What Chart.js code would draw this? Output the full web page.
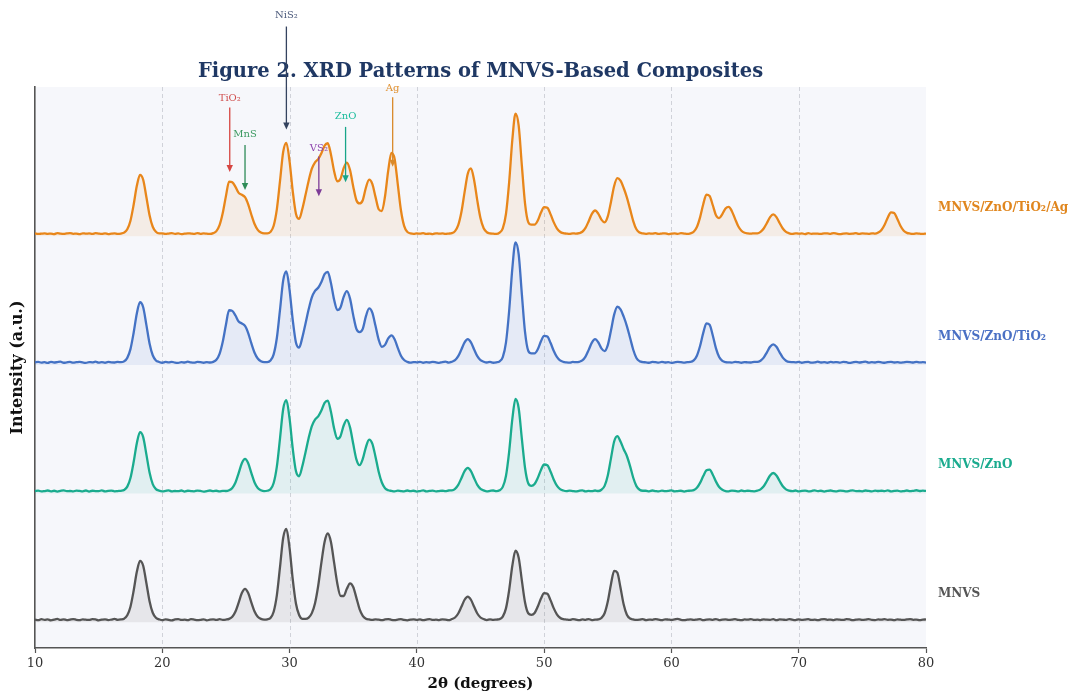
<!DOCTYPE html>
<html>
<head>
<meta charset="utf-8">
<script src="https://cdn.jsdelivr.net/npm/chart.js@4.4.1/dist/chart.umd.min.js"></script>
<style>
html,body{margin:0;padding:0;background:#ffffff;}
#wrap{width:1075px;height:696px;position:relative;}
canvas{display:block;}
</style>
</head>
<body>
<div id="wrap"><canvas id="c" width="1075" height="696"></canvas></div>
<script>
// 2θ sampling (degrees)
const twoTheta = [
10,10.25,10.5,10.75,11,11.25,11.5,11.75,12,12.25,12.5,12.75,13,13.25,13.5,13.75,14,14.25,14.5,14.75,
15,15.25,15.5,15.75,16,16.25,16.5,16.75,17,17.25,17.5,17.75,18,18.25,18.5,18.75,19,19.25,19.5,19.75,
20,20.25,20.5,20.75,21,21.25,21.5,21.75,22,22.25,22.5,22.75,23,23.25,23.5,23.75,24,24.25,24.5,24.75,
25,25.25,25.5,25.75,26,26.25,26.5,26.75,27,27.25,27.5,27.75,28,28.25,28.5,28.75,29,29.25,29.5,29.75,
30,30.25,30.5,30.75,31,31.25,31.5,31.75,32,32.25,32.5,32.75,33,33.25,33.5,33.75,34,34.25,34.5,34.75,
35,35.25,35.5,35.75,36,36.25,36.5,36.75,37,37.25,37.5,37.75,38,38.25,38.5,38.75,39,39.25,39.5,39.75,
40,40.25,40.5,40.75,41,41.25,41.5,41.75,42,42.25,42.5,42.75,43,43.25,43.5,43.75,44,44.25,44.5,44.75,
45,45.25,45.5,45.75,46,46.25,46.5,46.75,47,47.25,47.5,47.75,48,48.25,48.5,48.75,49,49.25,49.5,49.75,
50,50.25,50.5,50.75,51,51.25,51.5,51.75,52,52.25,52.5,52.75,53,53.25,53.5,53.75,54,54.25,54.5,54.75,
55,55.25,55.5,55.75,56,56.25,56.5,56.75,57,57.25,57.5,57.75,58,58.25,58.5,58.75,59,59.25,59.5,59.75,
60,60.25,60.5,60.75,61,61.25,61.5,61.75,62,62.25,62.5,62.75,63,63.25,63.5,63.75,64,64.25,64.5,64.75,
65,65.25,65.5,65.75,66,66.25,66.5,66.75,67,67.25,67.5,67.75,68,68.25,68.5,68.75,69,69.25,69.5,69.75,
70,70.25,70.5,70.75,71,71.25,71.5,71.75,72,72.25,72.5,72.75,73,73.25,73.5,73.75,74,74.25,74.5,74.75,
75,75.25,75.5,75.75,76,76.25,76.5,76.75,77,77.25,77.5,77.75,78,78.25,78.5,78.75,79,79.25,79.5,79.75,
80];

const seriesNames = ['MNVS', 'MNVS/ZnO', 'MNVS/ZnO/TiO₂', 'MNVS/ZnO/TiO₂/Ag'];
const stackOffsets = [0, 100, 200, 300];
const xTickValues = [10, 20, 30, 40, 50, 60, 70, 80];

// Intensity (a.u.) above each pattern's own baseline
const mnvs = [
2.1,1.6,2.4,1.9,2.2,1.5,2.0,2.6,1.8,2.3,1.7,2.1,2.5,1.9,1.6,2.3,2.0,1.8,2.4,2.2,1.5,2.0,2.3,1.7,2.1,2.6,1.9,2.2,
2.8,5.4,12.1,24.5,39.2,47.7,43.9,30.5,16.4,7.4,3.5,
2.3,1.6,2.3,1.9,1.5,2.2,2.5,1.8,2.0,1.6,2.4,2.1,1.7,1.9,2.3,1.5,2.0,2.2,1.8,2.4,1.9,2.1,
2.6,4.3,8.4,15.3,22.7,26.0,22.7,15.3,8.4,4.3,2.6,
2.1,2.3,
3.4,8.2,20.9,43.0,65.7,72.5,57.7,33.3,14.6,5.6,2.7,2.6,3.6,7.1,14.8,28.4,46.3,62.4,69.0,62.4,46.3,30.2,20.6,20.4,26.0,30.2,27.4,19.0,10.3,5.0,2.8,2.2,
1.8,2.3,2.0,1.6,2.2,2.5,1.9,1.7,2.1,2.4,1.8,1.5,2.0,2.3,1.9,2.2,1.6,2.1,2.5,1.8,2.0,1.7,2.3,2.1,1.6,2.5,
3.7,6.8,12.0,17.5,20.0,17.5,12.0,6.8,3.7,
2.5,1.7,2.3,1.9,2.1,2.4,
4.4,10.8,24.9,43.9,55.6,50.2,32.4,15.4,7.0,5.8,7.2,12.2,18.4,22.6,22.1,17.2,11.0,6.2,3.5,2.4,
2.1,1.8,2.4,2.0,1.6,2.2,1.9,2.5,1.7,2.0,2.2,
3.3,7.0,16.1,29.6,39.9,38.6,26.8,13.8,5.9,2.9,
2.2,1.8,2.0,2.4,1.7,2.1,1.9,2.5,2.0,1.6,
2.3,2.1,1.8,2.2,2.6,1.9,1.7,2.0,2.3,1.8,
2.1,2.4,1.6,2.0,2.2,1.9,2.5,1.7,2.1,2.3,
1.8,2.0,2.4,1.9,1.6,2.2,2.0,2.5,1.8,2.1,
1.7,2.3,2.0,1.9,2.4,1.6,2.2,2.1,1.8,2.5,
2.0,1.7,2.3,1.9,2.1,2.4,1.8,2.0,1.6,2.2,
2.5,1.9,2.1,1.7,2.3,2.0,1.8,2.4,2.2,1.6,
2.0,2.3,1.9,2.1,2.5,1.8,1.7,2.2,2.0,2.4,
1.9,2.1,1.6,2.3,2.0,1.8,2.2,2.5,1.9,2.1,
1.7,2.0,2.2];

const mnvsZnO = [
1.9,2.3,1.7,2.0,2.4,1.8,2.2,1.6,2.1,2.5,1.9,2.0,1.7,2.3,2.1,1.8,2.4,1.6,2.2,2.0,1.9,2.5,1.7,2.1,2.3,1.8,2.0,2.2,
2.8,5.4,12.1,24.5,39.2,47.7,43.9,30.5,16.4,7.4,3.5,
2.3,1.8,2.1,2.5,1.7,2.0,1.9,2.4,1.6,2.2,2.0,1.8,2.3,2.1,1.5,2.0,2.4,1.9,2.2,1.7,2.1,2.0,
2.6,4.4,8.6,15.9,23.6,27.0,23.6,15.9,8.6,4.4,2.6,
1.9,2.2,
3.4,8.2,20.9,43.0,65.7,72.6,58.2,34.9,17.5,13.5,21.2,32.0,43.2,52.5,57.5,60.0,64.5,70.5,72.3,
63.6,50.6,42.6,44.6,52.9,57.3,51.5,38.7,26.6,22.1,26.9,36.2,42.0,38.9,28.7,17.0,8.6,4.2,2.6,
2.1,1.7,2.3,2.0,1.8,2.4,1.9,2.2,1.6,2.0,2.5,1.8,2.1,2.3,1.7,2.0,2.2,1.9,2.4,2.5,
3.7,6.8,12.0,17.5,20.0,17.5,12.0,6.8,3.7,
2.5,1.8,2.1,2.4,1.9,
2.6,5.2,13.7,32.5,57.8,73.5,66.3,42.5,19.9,8.0,6.0,7.5,12.2,18.4,22.6,22.1,17.2,11.0,6.2,3.5,2.4,
1.9,2.3,2.0,1.7,2.2,2.5,1.8,2.1,1.9,2.4,2.0,
3.0,6.0,14.1,27.4,40.5,44.7,40.4,34.5,29.2,21.4,12.3,5.8,3.0,2.2,
2.2,1.8,2.4,2.0,1.7,2.3,1.9,2.1,2.5,1.8,2.0,2.2,1.6,2.1,2.3,
2.7,4.5,8.3,13.6,18.1,18.6,14.7,9.3,5.1,3.0,
2.0,1.8,2.3,2.1,1.7,2.4,1.9,2.2,2.0,1.8,2.3,
3.3,5.7,9.8,14.1,16.0,14.1,9.8,5.7,3.3,
2.3,1.9,2.4,1.7,2.1,2.3,1.8,2.0,2.5,1.9,
2.2,1.6,2.1,2.4,2.0,1.8,2.3,2.1,1.7,2.2,
2.5,1.9,2.0,1.8,2.4,2.1,1.7,2.3,2.0,2.2,
1.9,2.5,1.8,2.1,2.3,1.7,2.0,2.4,1.9,2.2,
2.6,2.0,2.3,2.1];

const mnvsZnOTiO2 = [
2.0,2.4,1.8,2.1,1.6,2.3,1.9,2.2,2.5,1.7,2.0,2.3,1.8,2.1,2.4,1.9,1.6,2.2,2.0,2.5,1.8,2.1,1.7,2.3,2.0,1.9,2.4,2.1,
2.8,5.5,12.3,25.0,40.0,48.7,44.8,31.1,16.7,7.5,3.5,
2.3,1.7,2.3,2.0,2.4,1.8,1.6,2.2,1.9,2.5,2.0,1.8,2.3,2.1,1.7,2.2,1.9,
2.4,4.0,8.6,18.0,31.2,42.5,42.0,38.4,33.7,32.2,30.4,24.8,16.7,9.5,5.0,2.9,2.2,
2.2,
3.4,8.2,20.9,43.0,65.7,72.6,58.2,34.9,17.5,13.5,21.2,32.0,43.2,52.5,57.5,60.0,64.5,70.5,72.3,
63.6,50.6,42.6,44.6,52.9,57.3,51.5,38.7,28.0,25.5,
28.0,37.9,44.0,40.7,30.4,19.6,14.1,15.6,20.6,23.0,20.0,13.3,7.2,3.8,2.4,
1.8,2.2,2.0,2.4,1.7,2.1,1.9,2.3,2.0,1.6,2.2,2.5,1.8,2.5,
3.7,6.8,12.0,17.5,20.0,17.5,12.0,6.8,3.7,
2.5,1.9,2.3,1.7,2.0,
2.8,6.1,17.3,41.9,74.9,95.3,85.9,54.9,25.4,11.0,9.0,9.0,12.2,18.4,22.6,22.1,17.2,11.0,6.2,3.5,2.4,
2.0,1.8,2.3,2.1,
2.4,3.5,6.5,11.7,17.4,20.0,17.6,12.9,10.8,15.4,26.7,39.1,45.2,43.2,37.5,30.2,21.1,11.8,5.4,2.9,2.2,
2.0,1.7,2.3,2.1,1.8,2.4,1.9,2.2,1.6,2.0,2.3,2.1,1.8,2.2,
2.3,3.5,7.2,14.7,24.9,32.3,31.3,22.9,12.9,6.2,3.2,2.2,
2.0,1.8,2.4,2.1,1.7,2.2,2.0,1.9,2.3,2.3,
3.3,5.7,9.8,14.1,16.0,14.1,9.8,5.7,3.3,
2.3,2.2,2.0,2.4,1.7,2.1,2.3,1.8,2.0,2.5,
1.9,2.1,1.7,2.3,2.0,2.2,1.8,2.4,2.1,1.6,
2.0,2.3,1.9,2.2,2.5,1.8,2.1,1.9,2.3,2.0,
1.7,2.2,2.4,1.9,2.1,1.8,2.0,2.3,2.2,1.9,
2.4,2.0,2.1,1.8];

const mnvsZnOTiO2Ag = [
2.2,1.8,2.0,2.3,1.9,2.1,1.7,2.4,2.0,1.8,2.2,2.5,1.9,2.1,1.6,2.3,2.0,2.2,1.8,2.4,2.1,1.9,2.3,1.7,2.0,2.2,1.8,2.1,
2.8,5.4,12.1,24.5,39.2,47.7,43.9,30.5,16.4,7.4,3.5,
2.3,2.3,1.8,2.1,2.4,1.9,2.2,1.7,2.0,2.3,2.1,1.8,2.5,1.9,2.2,2.0,1.8,
2.4,4.0,8.6,18.0,31.2,42.5,42.0,38.4,33.7,32.2,30.4,24.8,16.7,9.5,5.0,2.9,2.2,
2.2,
3.4,8.2,20.9,43.0,65.7,72.6,58.2,34.9,17.5,13.5,21.2,32.0,43.2,52.5,57.5,60.0,64.5,70.5,72.3,
63.6,50.6,42.6,44.6,52.9,57.3,51.5,38.7,28.0,25.5,
28.0,37.9,44.0,40.7,
30.6,21.0,19.6,31.1,51.0,64.8,60.3,40.6,20.2,8.1,3.4,2.2,
1.9,2.2,2.0,2.4,1.8,2.1,1.7,2.3,2.0,2.2,1.9,2.1,
2.4,4.0,8.6,18.8,34.3,48.6,52.7,43.6,27.7,14.0,6.2,3.1,2.2,
2.0,1.8,
2.8,6.1,17.3,41.9,74.9,95.3,85.9,54.9,25.4,11.0,9.0,9.0,12.2,18.4,22.6,22.1,17.2,11.0,6.2,3.5,2.4,
2.1,1.9,2.3,2.0,
2.4,3.5,6.5,11.7,17.4,20.0,17.6,12.9,10.8,15.4,26.7,39.1,45.2,43.2,37.5,30.2,21.1,11.8,5.4,2.9,2.2,
1.9,2.2,2.0,2.4,1.8,2.1,2.3,1.7,2.0,2.2,1.9,2.4,2.1,1.8,
2.3,3.5,7.2,14.7,24.9,32.3,31.3,24.1,16.3,14.1,17.2,21.6,22.9,19.5,13.5,7.8,4.3,2.7,2.2,
2.0,2.3,2.3,
3.4,6.0,10.3,14.9,17.0,14.9,10.3,6.0,3.4,
2.3,1.8,2.3,2.0,2.2,1.7,2.4,1.9,2.1,2.0,1.8,2.3,2.2,1.9,2.5,2.0,1.7,2.1,2.3,1.9,2.0,2.4,1.8,2.2,2.1,1.9,2.3,2.0,
2.9,4.9,9.0,14.6,18.6,18.1,13.5,8.0,4.3,2.6,
2.1,1.9,2.2,2.0,1.8,2.1];

// Phase markers: label, 2θ position, label height, arrow start, arrow tip (a.u. on the stacked scale)
const phaseLabels = ['NiS₂', 'TiO₂', 'MnS', 'VS₂', 'ZnO', 'Ag'];
const phaseTheta  = [29.75, 25.3, 26.5, 32.3, 34.4, 38.1];
const phaseLabelY = [472, 407, 379, 368, 393, 415];
const phaseStartY = [463, 400, 371, 362, 385, 408];
const phaseTipY   = [383, 350, 336, 331, 342, 354];

// ---------- styles ----------
const lineColors = ['#555555', '#1aab8e', '#4472c4', '#e8861a'];
const fillColors = ['rgba(85,85,85,0.10)', 'rgba(26,171,142,0.09)', 'rgba(68,114,196,0.09)', 'rgba(232,134,26,0.09)'];
const labelColors = ['#555555', '#1aab8e', '#4a70c4', '#e0861e'];
const phaseTextColors = ['#4d5b7c', '#d0504f', '#3c9a62', '#8e44ad', '#1abc9c', '#e0902e'];
const phaseArrowColors = ['#34435f', '#d64541', '#2e8b57', '#7d3c98', '#17a589', '#d98a2b'];
const SERIF = '"DejaVu Serif", "Liberation Serif", serif';

const allSeries = [mnvs, mnvsZnO, mnvsZnOTiO2, mnvsZnOTiO2Ag];

const datasets = allSeries.map((vals, i) => ({
  label: seriesNames[i],
  data: twoTheta.slice(0, vals.length).map((x, j) => ({ x: x, y: vals[j] + stackOffsets[i] })),
  borderColor: lineColors[i],
  backgroundColor: fillColors[i],
  fill: { value: stackOffsets[i] },
  borderWidth: 2.3,
  pointRadius: 0,
  cubicInterpolationMode: 'monotone',
  borderJoinStyle: 'round'
}));

const decorPlugin = {
  id: 'decor',
  beforeDraw(chart) {
    const { ctx, chartArea: a } = chart;
    ctx.save();
    ctx.fillStyle = '#ffffff';
    ctx.fillRect(0, 0, chart.width, chart.height);
    ctx.fillStyle = '#f6f7fb';
    ctx.fillRect(a.left, a.top, a.right - a.left, a.bottom - a.top);
    ctx.restore();
  },
  beforeDatasetsDraw(chart) {
    const { ctx, chartArea: a, scales: { x } } = chart;
    ctx.save();
    ctx.strokeStyle = 'rgba(150,155,165,0.45)';
    ctx.lineWidth = 0.9;
    ctx.setLineDash([4, 3]);
    xTickValues.forEach(v => {
      if (v <= x.min || v >= x.max) return;
      const px = Math.round(x.getPixelForValue(v)) + 0.5;
      ctx.beginPath();
      ctx.moveTo(px, a.top);
      ctx.lineTo(px, a.bottom);
      ctx.stroke();
    });
    ctx.restore();
  },
  afterDraw(chart) {
    const { ctx, chartArea: a, scales: { x, y } } = chart;
    ctx.save();
    // Title
    ctx.fillStyle = '#1f3864';
    ctx.font = 'bold 19.5px ' + SERIF;
    ctx.textAlign = 'center';
    ctx.textBaseline = 'middle';
    ctx.fillText('Figure 2. XRD Patterns of MNVS-Based Composites', (a.left + a.right) / 2, 72);
    // Axis titles
    ctx.fillStyle = '#111111';
    ctx.font = 'bold 15px ' + SERIF;
    ctx.fillText('2θ (degrees)', (a.left + a.right) / 2, 684);
    ctx.save();
    ctx.translate(18, (a.top + a.bottom) / 2);
    ctx.rotate(-Math.PI / 2);
    ctx.font = 'bold 16px ' + SERIF;
    ctx.fillText('Intensity (a.u.)', 0, 0);
    ctx.restore();
    // Series labels at right
    ctx.textAlign = 'left';
    ctx.font = 'bold 12px ' + SERIF;
    seriesNames.forEach((name, i) => {
      ctx.fillStyle = labelColors[i];
      ctx.fillText(name, a.right + 12, y.getPixelForValue(stackOffsets[i] + 22));
    });
    // Phase markers
    ctx.textAlign = 'center';
    ctx.font = '10px ' + SERIF;
    phaseLabels.forEach((lab, i) => {
      const px = x.getPixelForValue(phaseTheta[i]);
      const ty = y.getPixelForValue(phaseLabelY[i]);
      const sy = y.getPixelForValue(phaseStartY[i]);
      const ey = y.getPixelForValue(phaseTipY[i]);
      ctx.fillStyle = phaseTextColors[i];
      ctx.fillText(lab, px, ty);
      ctx.strokeStyle = phaseArrowColors[i];
      ctx.fillStyle = phaseArrowColors[i];
      ctx.lineWidth = 1.3;
      ctx.beginPath();
      ctx.moveTo(px, sy);
      ctx.lineTo(px, ey - 5);
      ctx.stroke();
      ctx.beginPath();
      ctx.moveTo(px, ey);
      ctx.lineTo(px - 3.2, ey - 7);
      ctx.lineTo(px + 3.2, ey - 7);
      ctx.closePath();
      ctx.fill();
    });
    ctx.restore();
  }
};

new Chart(document.getElementById('c').getContext('2d'), {
  type: 'line',
  data: { datasets: datasets },
  options: {
    responsive: false,
    animation: false,
    events: [],
    layout: { padding: { left: 0, right: 149, top: 87, bottom: 0 } },
    plugins: { legend: { display: false }, title: { display: false }, tooltip: { enabled: false } },
    scales: {
      x: {
        type: 'linear',
        min: 10, max: 80,
        ticks: { stepSize: 10, color: '#333333', font: { family: SERIF, size: 13 }, padding: 3, maxRotation: 0, autoSkip: false },
        grid: { display: true, drawOnChartArea: false, drawTicks: true, tickLength: 5, tickColor: '#555555', tickWidth: 1.2 },
        border: { display: true, color: '#555555', width: 1.6 },
        afterFit: s => { s.height = 48; }
      },
      y: {
        type: 'linear',
        min: -20, max: 416,
        ticks: { display: false },
        grid: { display: false },
        border: { display: true, color: '#555555', width: 1.6 },
        afterFit: s => { s.width = 35; }
      }
    }
  },
  plugins: [decorPlugin]
});
</script>
</body>
</html>
